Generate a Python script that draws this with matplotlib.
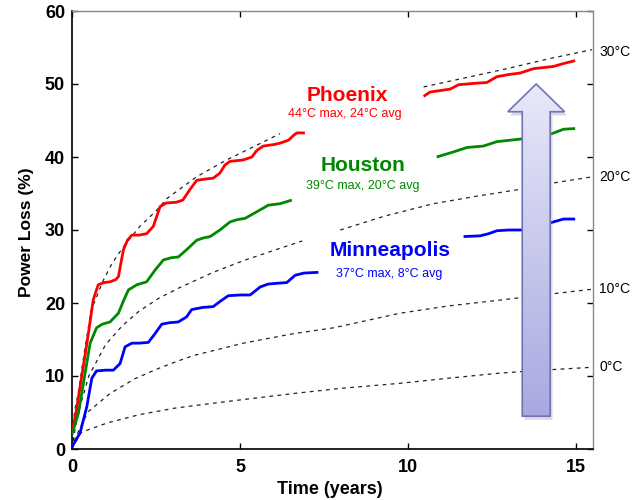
import numpy as np
import matplotlib
matplotlib.use("Agg")
import matplotlib.pyplot as plt
from matplotlib.patches import Polygon
from matplotlib.colors import LinearSegmentedColormap

plt.rcParams['font.family'] = ['Liberation Sans', 'DejaVu Sans']

nan = np.nan

# ---- city curves (time in years, power loss %) ----
phx_t = [0, 0.12, 0.24, 0.37, 0.49, 0.63, 0.78, 0.95, 1.13, 1.3, 1.38, 1.53, 1.65, 1.78, 2.0, 2.22,
         2.42, 2.62, 2.8, 3.1, 3.3, 3.5, 3.71, 4.0, 4.2, 4.4, 4.55, 4.7, 5.1, 5.35, 5.5, 5.69, 6.0,
         6.19, 6.44, 6.6, 6.69, 6.93, nan,
         10.46, 10.65, 11.25, 11.5, 12.0, 12.34, 12.64, 13.0, 13.33, 13.73, 14.32, 14.62, 14.97]
phx_y = [2.2, 5.0, 8.5, 12.3, 15.9, 20.4, 22.5, 22.8, 22.9, 23.2, 23.6, 27.3, 28.6, 29.3, 29.3, 29.5,
         30.5, 33.2, 33.7, 33.8, 34.1, 35.5, 36.8, 37.0, 37.1, 37.8, 38.9, 39.4, 39.6, 40.0, 40.9, 41.5, 41.7,
         41.9, 42.3, 43.0, 43.3, 43.3, nan,
         48.3, 48.9, 49.3, 49.9, 50.1, 50.2, 51.0, 51.3, 51.5, 52.1, 52.4, 52.8, 53.2]

hou_t = [0, 0.19, 0.39, 0.54, 0.73, 0.9, 1.13, 1.38, 1.55, 1.68, 1.93, 2.22, 2.47, 2.72, 2.95, 3.16,
         3.41, 3.71, 3.9, 4.11, 4.4, 4.7, 4.9, 5.15, 5.5, 5.84, 6.19, 6.54, nan,
         10.85, 11.35, 11.75, 12.24, 12.64, 13.23, 13.6, 14.0, 14.28, 14.62, 14.97]
hou_y = [2.0, 4.9, 10.4, 14.5, 16.6, 17.1, 17.4, 18.6, 20.5, 21.8, 22.5, 22.9, 24.5, 25.9, 26.2, 26.3,
         27.3, 28.6, 28.9, 29.1, 30.0, 31.1, 31.4, 31.6, 32.5, 33.4, 33.6, 34.1, nan,
         40.0, 40.7, 41.3, 41.5, 42.1, 42.4, 42.6, 42.9, 43.2, 43.8, 43.9]

min_t = [0, 0.24, 0.44, 0.59, 0.73, 1.0, 1.23, 1.43, 1.58, 1.78, 2.0, 2.27, 2.47, 2.67, 2.9, 3.16,
         3.41, 3.56, 3.9, 4.2, 4.4, 4.65, 5.0, 5.3, 5.6, 5.84, 6.1, 6.39, 6.64, 6.9, 7.33, nan,
         11.65, 12.14, 12.4, 12.64, 13.0, 13.38, 13.8, 14.32, 14.62, 14.97]
min_y = [0.3, 2.2, 5.8, 9.7, 10.7, 10.8, 10.8, 11.7, 14.0, 14.5, 14.5, 14.6, 15.8, 17.1, 17.3, 17.4,
         18.1, 19.1, 19.4, 19.5, 20.2, 21.0, 21.1, 21.1, 22.2, 22.6, 22.7, 22.8, 23.8, 24.1, 24.2, nan,
         29.1, 29.2, 29.5, 29.9, 30.0, 30.0, 30.4, 31.1, 31.5, 31.5]

# ---- constant-temperature model curves (dashed) ----
c30_t = [0, 0.05, 0.09, 0.18, 0.38, 0.57, 0.93, 1.2, 1.53, 2.02, 2.52, 2.82, 3.71, 4.6, 5.4, 6.19, nan,
         10.46, 11.75, 12.94, 14.23, 15.47]
c30_y = [0, 4.0, 5.5, 7.5, 13.6, 19.0, 23.1, 25.5, 27.7, 30.5, 32.7, 34.3, 37.3, 39.6, 41.4, 43.2, nan,
         49.6, 50.9, 52.1, 53.5, 54.7]

c20_t = [0, 0.1, 0.25, 0.5, 1.0, 1.5, 2.0, 2.6, 3.2, 4.2, 5.1, 6.0, 6.85, nan,
         7.98, 9.3, 10.75, 12.0, 13.23, 14.4, 15.5]
c20_y = [0, 3.0, 6.0, 10.0, 14.3, 16.9, 18.9, 20.7, 22.1, 24.2, 25.8, 27.2, 28.5, nan,
         30.0, 31.9, 33.6, 34.6, 35.5, 36.5, 37.3]

c10_t = [0, 0.1, 0.25, 0.48, 1.13, 1.86, 2.5, 3.06, 3.61, 5.1, 6.59, 7.78, 9.76, 11.2, 12.74, 14.0, 15.5]
c10_y = [0, 1.5, 3.0, 5.1, 7.6, 9.6, 10.9, 11.9, 12.8, 14.5, 15.8, 16.6, 18.6, 19.6, 20.4, 21.1, 21.9]

c0_t = [0, 0.1, 0.28, 1.07, 2.0, 3.06, 4.6, 6.59, 7.98, 9.76, 11.2, 12.74, 14.0, 15.5]
c0_y = [0, 0.9, 2.3, 3.6, 4.7, 5.6, 6.5, 7.6, 8.3, 9.0, 9.7, 10.4, 10.8, 11.2]

temp_labels = ['30°C', '20°C', '10°C', '0°C']
temp_label_y = [54.4, 37.3, 21.9, 11.2]

cities = ['Phoenix', 'Houston', 'Minneapolis']
city_sub = ['44°C max, 24°C avg', '39°C max, 20°C avg', '37°C max, 8°C avg']
city_colors = ['#ff0000', '#008800', '#0000ff']

xticks = [0, 5, 10, 15]
yticks = [0, 10, 20, 30, 40, 50, 60]

# ---- figure ----
fig = plt.figure(figsize=(6.32, 5.0), dpi=100)
ax = fig.add_axes([72 / 632, 51 / 500, 521 / 632, 438 / 500])

dash_kw = dict(color='#222222', lw=0.9, ls=(0, (3, 3.5)), zorder=2)
for t, y in [(c30_t, c30_y), (c20_t, c20_y), (c10_t, c10_y), (c0_t, c0_y)]:
    ax.plot(t, y, **dash_kw)

for (t, y), c in zip([(phx_t, phx_y), (hou_t, hou_y), (min_t, min_y)], city_colors):
    ax.plot(t, y, color=c, lw=2.0, zorder=3, solid_capstyle='butt')

# city labels
title_pos = [(8.18, 48.4), (8.67, 38.9), (9.46, 27.2)]
sub_pos = [(8.12, 45.9), (8.65, 36.0), (9.44, 24.0)]
for name, sub, c, p1, p2 in zip(cities, city_sub, city_colors, title_pos, sub_pos):
    ax.text(p1[0], p1[1], name, color=c, fontsize=15, fontweight='bold', ha='center', va='center', zorder=6)
    ax.text(p2[0], p2[1], sub, color=c, fontsize=9, ha='center', va='center', zorder=6)

# temperature labels on the right
for lab, yy in zip(temp_labels, temp_label_y):
    ax.text(15.68, yy, lab, fontsize=10, ha='left', va='center', clip_on=False)

# big arrow with gradient
cx, hw, hh, y0, yb, yt = 13.81, 0.415, 0.845, 4.5, 46.2, 50.0
verts = [(cx - hw, y0), (cx + hw, y0), (cx + hw, yb), (cx + hh, yb), (cx, yt), (cx - hh, yb), (cx - hw, yb)]
shadow = Polygon([(vx + 0.07, vy - 0.5) for vx, vy in verts], closed=True, fc='#9090a0', ec='none',
                 alpha=0.35, zorder=8)
ax.add_patch(shadow)
arrow = Polygon(verts, closed=True, fc='none', ec='#7272b4', lw=1.2, zorder=11)
ax.add_patch(arrow)
cmap = LinearSegmentedColormap.from_list('arr', ['#a8a9e0', '#e8e9f9'])
grad = np.linspace(0, 1, 256).reshape(-1, 1)
im = ax.imshow(grad, cmap=cmap, origin='lower', aspect='auto',
               extent=[cx - hh, cx + hh, y0, yt], zorder=10, interpolation='bilinear')
clip = Polygon(verts, closed=True, transform=ax.transData, fc='none', ec='none')
im.set_clip_path(clip)

ax.set_xlim(0, 15.5)
ax.set_ylim(0, 60)
ax.set_xticks(xticks)
ax.set_yticks(yticks)
ax.tick_params(direction='in', length=4, width=1.0, top=True, right=True, labelsize=13, colors='black')
ax.tick_params(axis='y', pad=5)
ax.tick_params(axis='x', pad=7)
for lab in ax.get_xticklabels() + ax.get_yticklabels():
    lab.set_fontweight('bold')
ax.set_yticks([10, 20, 30, 40, 50], minor=False)
ax.set_yticks(yticks)

for s in ['left', 'bottom']:
    ax.spines[s].set_linewidth(1.3)
    ax.spines[s].set_color('#111111')
for s in ['top', 'right']:
    ax.spines[s].set_linewidth(1.0)
    ax.spines[s].set_color('#888888')

fig.text(330 / 632, 1 - 489 / 500, 'Time (years)', fontsize=13, fontweight='bold', ha='center', va='center')
fig.text(27 / 632, 1 - 232 / 500, 'Power Loss (%)', fontsize=12.5, fontweight='bold', ha='center',
         va='center', rotation=90)

fig.savefig('out.png', dpi=100, facecolor='white')
